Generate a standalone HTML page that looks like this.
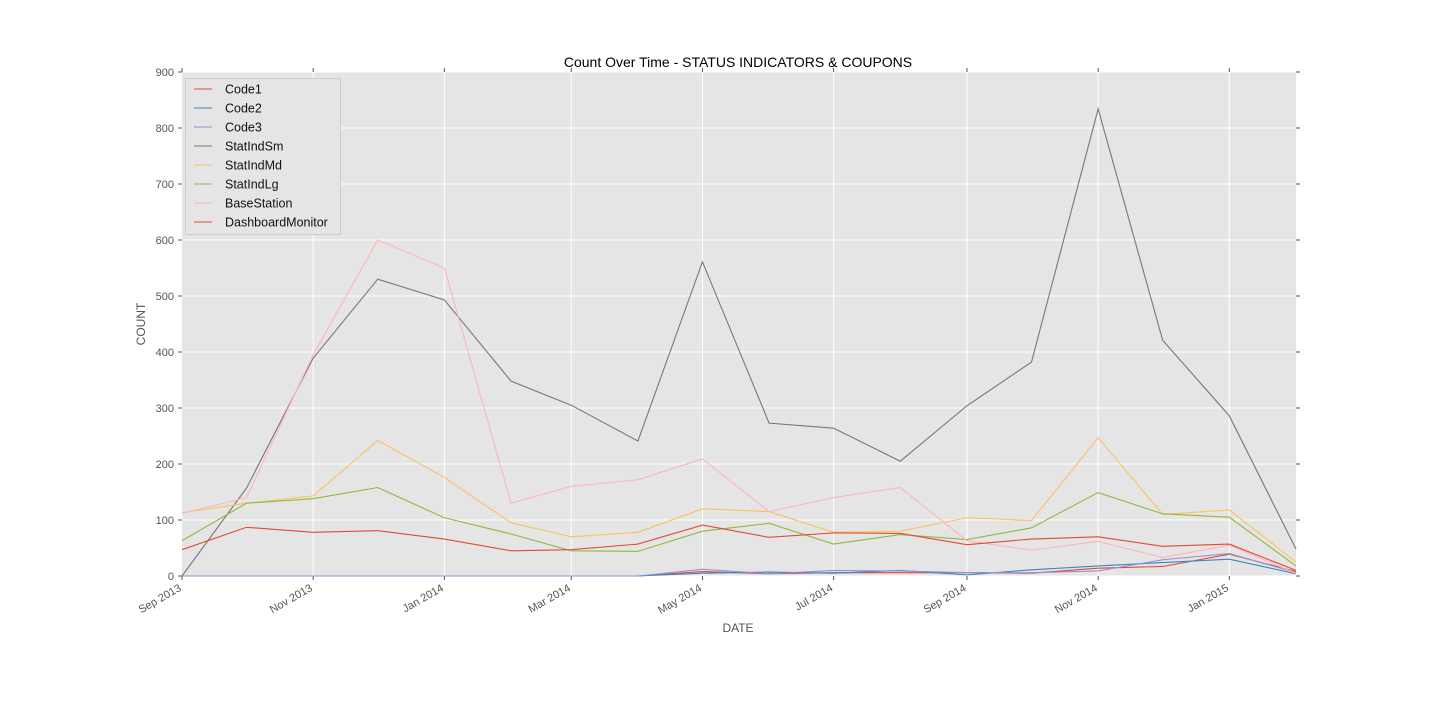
<!DOCTYPE html>
<html><head><meta charset="utf-8"><style>
body{margin:0;background:#fff;}
svg text{font-family:"Liberation Sans","DejaVu Sans",sans-serif;}
</style></head><body>
<svg id="chart" width="1440" height="720" xmlns="http://www.w3.org/2000/svg"></svg>
<script>
const months=["2013-09","2013-10","2013-11","2013-12","2014-01","2014-02","2014-03","2014-04","2014-05","2014-06","2014-07","2014-08","2014-09","2014-10","2014-11","2014-12","2015-01","2015-02"];
const code1=[0,0,0,0,0,0,0,0,8,4,6,6,6,5,14,17,39,8];
const code2=[0,0,0,0,0,0,0,0,5,7,5,10,2,11,18,24,30,4];
const code3=[0,0,0,0,0,0,0,0,12,4,10,9,6,6,9,29,40,6];
const statIndSm=[0,157,389,530,493,348,305,241,561,273,264,205,304,382,834,421,286,48];
const statIndMd=[113,130,143,242,176,95,70,78,120,115,78,80,104,99,247,110,118,25];
const statIndLg=[63,130,138,158,104,75,45,44,80,94,57,74,65,86,149,111,105,18];
const baseStation=[112,140,395,600,550,130,160,172,209,115,140,158,63,46,62,33,55,5];
const dashboard=[47,87,78,81,66,45,47,57,91,69,77,76,56,66,70,53,57,10];
const yTicks=[0,100,200,300,400,500,600,700,800,900];
const xTickLabels=["Sep 2013","Nov 2013","Jan 2014","Mar 2014","May 2014","Jul 2014","Sep 2014","Nov 2014","Jan 2015"];
const xTickDates=["2013-09","2013-11","2014-01","2014-03","2014-05","2014-07","2014-09","2014-11","2015-01"];

const NS="http://www.w3.org/2000/svg";
const svg=document.getElementById('chart');
const L=182,R=1296,T=72,B=576;
const d0=Date.parse(months[0]+"-01"),d1=Date.parse(months[months.length-1]+"-01");
function x(m){return L+(Date.parse(m+"-01")-d0)/(d1-d0)*(R-L);}
function y(v){return B-v/900*(B-T);}
function el(tag,attrs,parent){const e=document.createElementNS(NS,tag);for(const k in attrs)e.setAttribute(k,attrs[k]);(parent||svg).appendChild(e);return e;}

const bg=el('rect',{x:L,y:T,width:R-L,height:B-T,fill:'#e5e5e5'});



yTicks.forEach(v=>{
  const g=el('line',{x1:L,x2:R,y1:y(v),y2:y(v),stroke:'#fff','stroke-width':1});
  
  
  el('line',{x1:L-4,x2:L,y1:y(v),y2:y(v),stroke:'#555'});
  el('line',{x1:R,x2:R+4,y1:y(v),y2:y(v),stroke:'#555'});
  const t=el('text',{x:L-8,y:y(v)+4,'text-anchor':'end','font-size':11,fill:'#555'});
  t.textContent=v;
  
  
});
xTickDates.forEach((m,i)=>{
  const xx=x(m);
  if(xx>L+1&&xx<R-1){
    const g=el('line',{x1:xx,x2:xx,y1:T,y2:B,stroke:'#fff'});
    
    
  }
  el('line',{x1:xx,x2:xx,y1:B,y2:B+4,stroke:'#555'});
  el('line',{x1:xx,x2:xx,y1:T-4,y2:T,stroke:'#555'});
  const t=el('text',{x:xx,y:B+14,'text-anchor':'end','font-size':11,fill:'#555',transform:`rotate(-30 ${xx} ${B+14})`});
  t.textContent=xTickLabels[i];
  
  
});

const series=[
 ["Code1",code1,"#E24A33"],["Code2",code2,"#348ABD"],["Code3",code3,"#988ED5"],
 ["StatIndSm",statIndSm,"#777777"],["StatIndMd",statIndMd,"#FBC15E"],["StatIndLg",statIndLg,"#8EBA42"],
 ["BaseStation",baseStation,"#FFB5B8"],["DashboardMonitor",dashboard,"#E24A33"]];
series.forEach(([name,vals,c])=>{
  const p=el('polyline',{points:vals.map((v,i)=>x(months[i])+','+y(v)).join(' '),fill:'none',stroke:c,'stroke-width':1.1});
  
  
});

const lg=el('g',{});


el('rect',{x:185.5,y:78.5,width:155,height:156,fill:'#e5e5e5',stroke:'#ccc'},lg);
series.forEach(([name,vals,c],i)=>{
  const yy=89+i*19;
  el('line',{x1:194,x2:212,y1:yy,y2:yy,stroke:c,'stroke-width':1.1},lg);
  const t=el('text',{x:225,y:yy+4.5,'font-size':12.5,fill:'#111'},lg);
  t.textContent=name;
  
  
});

const title=el('text',{x:738,y:67,'text-anchor':'middle','font-size':14,fill:'#000'});
title.textContent="Count Over Time - STATUS INDICATORS & COUPONS";


const xl=el('text',{x:738,y:632,'text-anchor':'middle','font-size':12,fill:'#555'});
xl.textContent="DATE";


const yl=el('text',{x:145,y:324,'text-anchor':'middle','font-size':12,fill:'#555',transform:'rotate(-90 145 324)'});
yl.textContent="COUNT";


</script>
</body></html>
